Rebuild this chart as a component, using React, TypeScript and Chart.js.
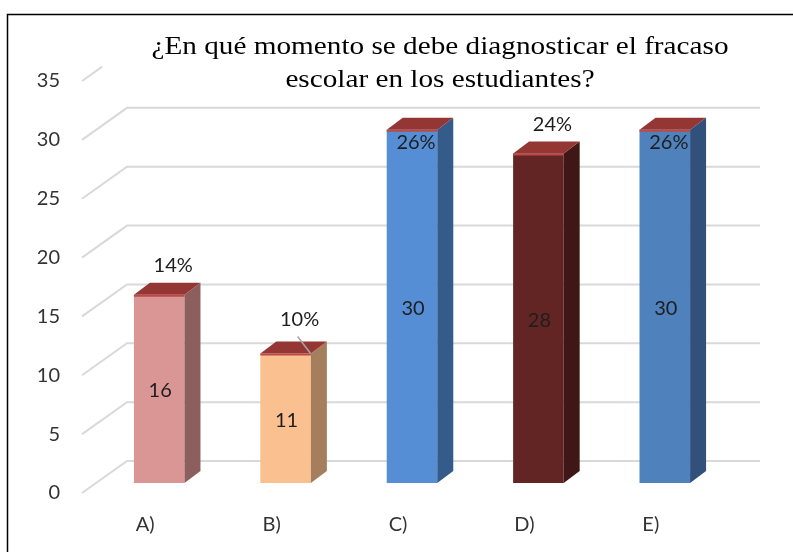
import React, { useEffect, useRef } from "react";
import { Chart, registerables } from "chart.js";

Chart.register(...registerables);

const categories = ["A)", "B)", "C)", "D)", "E)"];
const counts = [16, 11, 30, 28, 30];
const percentLabels = ["14%", "10%", "26%", "24%", "26%"];
const leaderFlags = [false, true, false, false, false];
const yMin = 0;
const yMax = 35;
const yStep = 5;
const titleLines = [
  "¿En qué momento se debe diagnosticar el fracaso",
  "escolar en los estudiantes?",
];
const frontColors = ["#D99694", "#FAC090", "#558ED5", "#632523", "#4F81BD"];
const sideColors = ["#8C5F5E", "#A47E5D", "#355B8B", "#3E1716", "#32517A"];
const topColor = "#943634";
const topEdgeColor = "#B94A47";

const W = 793;
const H = 552;

const threeD = {
  id: "threeD",
  beforeDraw(chart: any) {
    const ctx = chart.ctx;
    ctx.save();
    ctx.fillStyle = "#ffffff";
    ctx.fillRect(0, 0, W, H);
    ctx.strokeStyle = "#000000";
    ctx.lineWidth = 1.5;
    ctx.beginPath();
    ctx.moveTo(7.5, H);
    ctx.lineTo(7.5, 14.5);
    ctx.lineTo(W, 14.5);
    ctx.stroke();
    ctx.fillStyle = "#000000";
    ctx.font = "26px 'Liberation Serif', 'Times New Roman', serif";
    ctx.textAlign = "center";
    ctx.textBaseline = "alphabetic";
    const w0 = ctx.measureText(titleLines[0]).width;
    const sx = 577 / w0;
    const baselines = [54, 87];
    titleLines.forEach((line, i) => {
      ctx.save();
      ctx.translate(440, baselines[i]);
      ctx.scale(sx, 1);
      ctx.fillText(line, 0, 0);
      ctx.restore();
    });
    ctx.restore();
  },
  beforeDatasetsDraw(chart: any) {
    const ctx = chart.ctx;
    const area = chart.chartArea;
    const y = chart.scales.y;
    ctx.save();
    ctx.strokeStyle = "#D9D9D9";
    ctx.lineWidth = 2;
    const fdx = -14, fdy = 10, bdx = 31, bdy = -22;
    for (let v = yMin; v <= yMax; v += yStep) {
      const py = y.getPixelForValue(v);
      const fx = area.left + fdx, fy = py + fdy;
      const bx = area.left + bdx, by = py + bdy;
      ctx.beginPath();
      if (v === yMax) {
        const t = 0.45;
        ctx.moveTo(fx, fy);
        ctx.lineTo(fx + (bx - fx) * t, fy + (by - fy) * t);
      } else {
        ctx.moveTo(fx, fy);
        ctx.lineTo(bx, by);
        ctx.lineTo(area.right + 32, by);
      }
      ctx.stroke();
    }
    ctx.restore();
  },
  afterDatasetsDraw(chart: any) {
    const ctx = chart.ctx;
    const area = chart.chartArea;
    const meta = chart.getDatasetMeta(0);
    const dx = 16, dy = 12;
    ctx.save();
    meta.data.forEach((bar: any, i: number) => {
      const half = bar.width / 2;
      const l = bar.x - half, r = bar.x + half;
      const t = bar.y, b = bar.base;
      ctx.fillStyle = sideColors[i];
      ctx.beginPath();
      ctx.moveTo(r, t);
      ctx.lineTo(r + dx, t - dy);
      ctx.lineTo(r + dx, b - dy);
      ctx.lineTo(r, b);
      ctx.closePath();
      ctx.fill();
      ctx.fillStyle = topColor;
      ctx.beginPath();
      ctx.moveTo(l, t);
      ctx.lineTo(r, t);
      ctx.lineTo(r + dx, t - dy);
      ctx.lineTo(l + dx, t - dy);
      ctx.closePath();
      ctx.fill();
      ctx.strokeStyle = topEdgeColor;
      ctx.lineWidth = 2;
      ctx.beginPath();
      ctx.moveTo(l, t + 1);
      ctx.lineTo(r, t + 1);
      ctx.stroke();
    });
    ctx.font = "20px Lato, 'Open Sans', sans-serif";
    ctx.textAlign = "center";
    ctx.textBaseline = "middle";
    ctx.fillStyle = "#1E1E1E";
    meta.data.forEach((bar: any, i: number) => {
      const t = bar.y, b = bar.base;
      ctx.fillText(String(counts[i]), bar.x + 1, (t + b) / 2 + 2);
      let px = bar.x + 14;
      let py = t - (leaderFlags[i] ? 34 : 29);
      if (py < area.top + 35) {
        px = bar.x + 4;
        py = t + 13;
      }
      if (leaderFlags[i]) {
        ctx.save();
        ctx.strokeStyle = "#A6A6A6";
        ctx.lineWidth = 1.5;
        ctx.beginPath();
        ctx.moveTo(bar.x + 12, t - 17);
        ctx.lineTo(bar.x + 25, t);
        ctx.stroke();
        ctx.restore();
      }
      ctx.fillText(percentLabels[i], px, py);
    });
    ctx.restore();
  },
};

export default function App() {
  const ref = useRef<HTMLCanvasElement | null>(null);
  useEffect(() => {
    document.body.style.margin = "0";
    const canvas = ref.current;
    if (!canvas) return;
    const chart = new Chart(canvas, {
      type: "bar",
      data: {
        labels: categories,
        datasets: [
          {
            data: counts,
            backgroundColor: frontColors,
            borderWidth: 0,
            barPercentage: 0.4,
            categoryPercentage: 1,
          },
        ],
      },
      options: {
        animation: false,
        responsive: false,
        devicePixelRatio: 1,
        layout: { padding: { left: 0, right: 65, top: 71, bottom: 0 } },
        plugins: {
          legend: { display: false },
          title: { display: false },
          tooltip: { enabled: false },
        },
        scales: {
          x: {
            grid: { display: false, drawTicks: false },
            border: { display: false },
            ticks: {
              padding: 30,
              labelOffset: -14,
              color: "#333333",
              font: { family: "Lato, 'Open Sans', sans-serif", size: 20 },
            },
            afterFit(scale: any) {
              scale.height = 69;
            },
          },
          y: {
            min: yMin,
            max: yMax,
            grid: { display: false, drawTicks: false },
            border: { display: false },
            ticks: {
              stepSize: yStep,
              padding: 36,
              labelOffset: 10,
              color: "#333333",
              font: { family: "Lato, 'Open Sans', sans-serif", size: 20 },
            },
            afterFit(scale: any) {
              scale.width = 96;
            },
          },
        },
      },
      plugins: [threeD],
    });
    return () => chart.destroy();
  }, []);
  return (
    <canvas
      ref={ref}
      width={W}
      height={H}
      style={{ display: "block", width: W, height: H }}
    />
  );
}
